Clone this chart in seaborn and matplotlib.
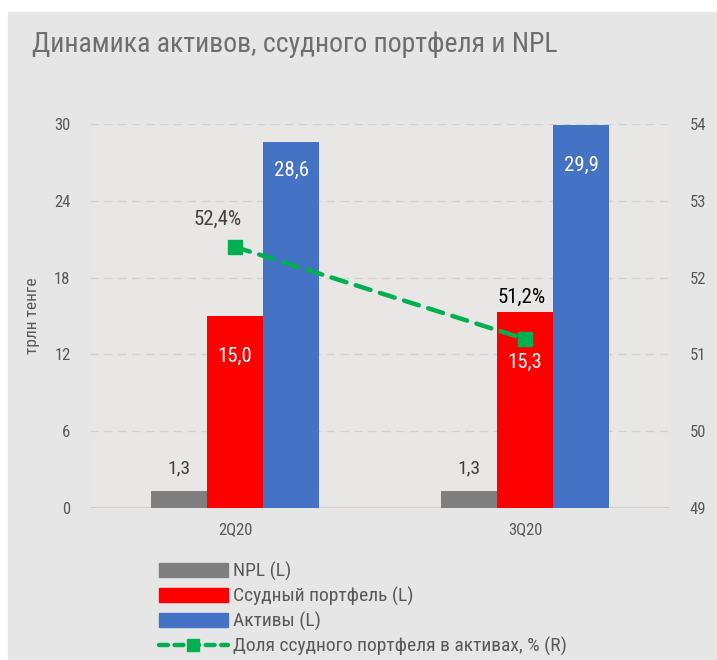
import matplotlib
matplotlib.use("Agg")
import matplotlib.pyplot as plt
import seaborn as sns
import pandas as pd
from matplotlib import font_manager
from matplotlib.patches import Rectangle, Patch
from matplotlib.lines import Line2D

# data
quarters = ["2Q20", "3Q20"]
npl = [1.3, 1.3]
loans = [15.0, 15.3]
assets = [28.6, 29.9]
loan_share = [52.4, 51.2]  # % (right axis)

series_names = ["NPL (L)", "Ссудный портфель (L)", "Активы (L)"]
line_name = "Доля ссудного портфеля в активах, % (R)"
colors = ["#7f7f7f", "#ff0000", "#4472c4"]
green = "#00b050"

df = pd.DataFrame({
    "quarter": quarters * 3,
    "value": npl + loans + assets,
    "series": [s for s in series_names for _ in quarters],
})

sns.set_theme(style="white")
available = {f.name for f in font_manager.fontManager.ttflist}
narrow = next((f for f in ["Liberation Sans Narrow", "Roboto Condensed",
                           "Open Sans Condensed", "Roboto", "DejaVu Sans"]
               if f in available), "DejaVu Sans")
plt.rcParams["font.family"] = [narrow, "DejaVu Sans"]

fig = plt.figure(figsize=(7.17, 6.6), dpi=100, facecolor="white")
fig.patches.append(Rectangle((8 / 717, 0), 1, 1 - 12 / 660, transform=fig.transFigure,
                             color="#e7e6e6", zorder=-5))

ax = fig.add_axes([90 / 717, 152 / 660, 580 / 717, 384 / 660])
ax.set_facecolor("#e9e6e6")
sns.barplot(data=df, x="quarter", y="value", hue="series", palette=colors,
            saturation=1, width=0.58, linewidth=0, ax=ax, legend=False, zorder=3)

ax.set_ylim(0, 30)
ax.set_xlim(-0.5, 1.5)
ax.set_yticks(range(0, 31, 6))
ax.grid(axis="y", color="#d2d2d2", linestyle=(0, (6, 4)), linewidth=1)
ax.set_axisbelow(True)
for s in ax.spines.values():
    s.set_visible(False)
ax.axhline(0, color="#d0d0d0", linewidth=1.5, zorder=2)
ax.tick_params(axis="both", length=0, labelsize=12, colors="#595959", pad=14)
ax.tick_params(axis="x", pad=10)
ax.set_xlabel("")
ax.set_ylabel("трлн тенге", fontsize=12.5, color="#595959", labelpad=10)

# bar labels
def fmt(v):
    return f"{v:.1f}".replace(".", ",")

ax.bar_label(ax.containers[0], labels=[fmt(v) for v in npl], padding=10,
             fontsize=14, color="#404040")
for cont, vals, offs in zip(ax.containers[1:], [loans, assets], [[-40, -50], [-28, -40]]):
    for bar, v, o in zip(cont, vals, offs):
        ax.annotate(fmt(v), (bar.get_x() + bar.get_width() / 2, bar.get_height()),
                    xytext=(0, o * 0.72), textcoords="offset points",
                    ha="center", va="center", color="white", fontsize=15, zorder=5)

# right axis line
ax2 = ax.twinx()
ax2.plot(range(len(quarters)), loan_share, color=green, linewidth=3.2,
         linestyle=(0, (3.5, 2.2)), dash_capstyle="round",
         marker="s", markersize=10, zorder=6)
ax2.set_ylim(49, 54)
ax2.set_yticks(range(49, 55))
for s in ax2.spines.values():
    s.set_visible(False)
ax2.tick_params(axis="y", length=0, labelsize=12, colors="#595959", pad=14)
ax2.grid(False)

pct_offsets = [(-17, 27), (-3, 42)]
pct_colors = ["#404040", "#000000"]
for i, (v, o, c) in enumerate(zip(loan_share, pct_offsets, pct_colors)):
    ax2.annotate(f"{v:.1f}%".replace(".", ","), (i, v),
                 xytext=(o[0] * 0.72, o[1] * 0.72), textcoords="offset points",
                 ha="center", va="center", fontsize=15, color=c)

# title
fig.text(32 / 717, 1 - 45 / 660, "Динамика активов, ссудного портфеля и NPL",
         fontsize=20, color="#6e6e6e", ha="left", va="center")

# legend
handles = [Patch(facecolor=c, edgecolor=c) for c in colors]
handles.append(Line2D([], [], color=green, linewidth=3.2, linestyle=(0, (2, 1.5)),
                      dash_capstyle="round", marker="s", markersize=8))
leg = fig.legend(handles, series_names + [line_name], loc="upper left",
                 bbox_to_anchor=(141 / 717, 1 - 544 / 660), frameon=False,
                 fontsize=14, labelcolor="#595959", handlelength=3.55,
                 handleheight=0.72, handletextpad=0.3, labelspacing=0.3)

fig.savefig("out.png", dpi=100, facecolor=fig.get_facecolor())
